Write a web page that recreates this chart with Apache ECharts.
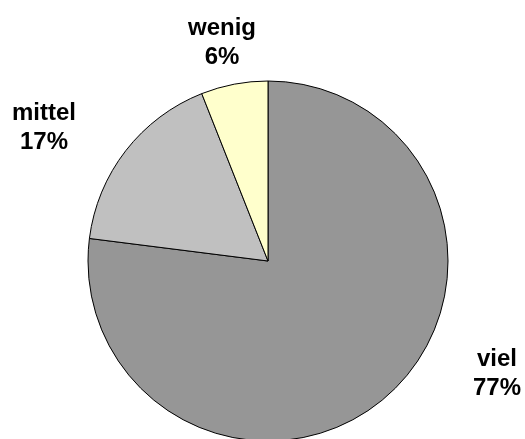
<!DOCTYPE html>
<html>
<head>
<meta charset="utf-8">
<script src="https://cdn.jsdelivr.net/npm/echarts@6/dist/echarts.min.js"></script>
<style>
  html, body { margin: 0; padding: 0; background: #fff; }
  #chart { width: 525px; height: 439px; }
</style>
</head>
<body>
<div id="chart"></div>
<script>
// Share of answers per category, clockwise from 12 o'clock
const categories = ['viel', 'mittel', 'wenig'];
const shares = [77, 17, 6];
const sliceColors = ['#969696', '#c0c0c0', '#ffffcc'];

// Label anchor points (centre of each two-line label)
const labelSpots = [[497, 374], [44, 128], [222, 43]];

const chart = echarts.init(document.getElementById('chart'), null, { renderer: 'canvas' });

chart.setOption({
  backgroundColor: '#ffffff',
  animation: false,
  series: [{
    type: 'pie',
    center: [268, 261],
    radius: 180,
    startAngle: 90,
    clockwise: true,
    avoidLabelOverlap: false,
    data: categories.map((name, i) => ({
      name: name,
      value: shares[i],
      itemStyle: { color: sliceColors[i] }
    })),
    itemStyle: { borderColor: '#000000', borderWidth: 1 },
    label: {
      show: true,
      position: 'outside',
      formatter: '{b}\n{c}%',
      fontFamily: 'Arial, "Liberation Sans", sans-serif',
      fontWeight: 'bold',
      fontSize: 24,
      lineHeight: 29,
      color: '#000000',
      align: 'center'
    },
    labelLine: { show: false },
    labelLayout: function (params) {
      const p = labelSpots[params.dataIndex];
      return { x: p[0], y: p[1], align: 'center', verticalAlign: 'middle' };
    },
    emphasis: { disabled: true }
  }]
});
</script>
</body>
</html>
